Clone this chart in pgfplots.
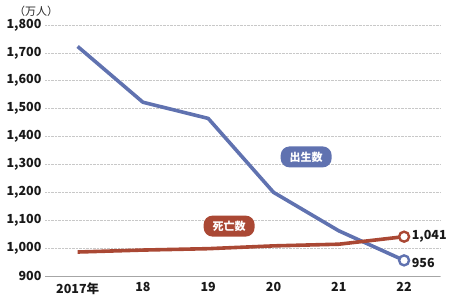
\documentclass[border=0pt]{standalone}
\usepackage{pgfplots}
\pgfplotsset{compat=1.18}
\usepackage{fontspec}
\setmainfont{Noto Sans CJK JP}
\definecolor{birth}{RGB}{96,114,176}
\definecolor{death}{RGB}{170,72,52}
\definecolor{gridc}{RGB}{200,200,200}
\newcommand{\tf}{\fontsize{12.5}{14}\selectfont\bfseries}
\begin{document}
\begin{tikzpicture}[x=1pt,y=1pt]
\useasboundingbox (0,0) rectangle (465,300);
\begin{axis}[
  at={(45pt,24pt)}, anchor=south west,
  scale only axis, width=395pt, height=251pt,
  xmin=-0.5, xmax=5.55, ymin=900, ymax=1800,
  axis line style={draw=none},
  xtick={0,1,2,3,4,5},
  xticklabels={2017年,18,19,20,21,22},
  ytick={900,1000,...,1800},
  yticklabels={900,{1,000},{1,100},{1,200},{1,300},{1,400},{1,500},{1,600},{1,700},{1,800}},
  major tick length=0pt,
  ymajorgrids, grid style={gridc, densely dotted, line width=0.6pt},
  tick label style={font=\tf, text=black!90},
  yticklabel style={xshift=0pt},
  xticklabel style={yshift=-3pt},
  /pgf/number format/assume math mode=true,
  clip=false,
]
\draw[gray!70, line width=0.9pt] (axis cs:-0.5,900) -- (axis cs:5.55,900);
\addplot[birth, line width=3.6pt, line join=round] coordinates {
(0,1723) (1,1523) (2,1465) (3,1200) (4,1062) (5,956)};
\addplot[death, line width=3.6pt, line join=round] coordinates {
(0,986) (1,993) (2,998) (3,1008) (4,1014) (5,1041)};
\addplot[birth, only marks, mark=*, mark size=5pt, line width=2.4pt, mark options={fill=white, draw=birth}] coordinates {(5,956)};
\addplot[death, only marks, mark=*, mark size=5pt, line width=2.4pt, mark options={fill=white, draw=death}] coordinates {(5,1041)};
\node[anchor=west, font=\tf, text=black!90, inner xsep=1pt] at (axis cs:5.1,1043) {1,041};
\node[anchor=west, font=\tf, text=black!90, inner xsep=1pt] at (axis cs:5.1,946) {956};
\node[fill=birth, text=white, rounded corners=9pt, minimum height=21pt, inner xsep=9pt, font=\fontsize{11}{13}\selectfont\bfseries] at (axis cs:3.5,1327) {出生数};
\node[fill=death, text=white, rounded corners=9pt, minimum height=21pt, inner xsep=9pt, font=\fontsize{11}{13}\selectfont\bfseries] at (axis cs:2.32,1079) {死亡数};
\end{axis}
\node[font=\fontsize{11}{13}\selectfont, text=black!85] at (36,289) {（万人）};
\end{tikzpicture}
\end{document}
